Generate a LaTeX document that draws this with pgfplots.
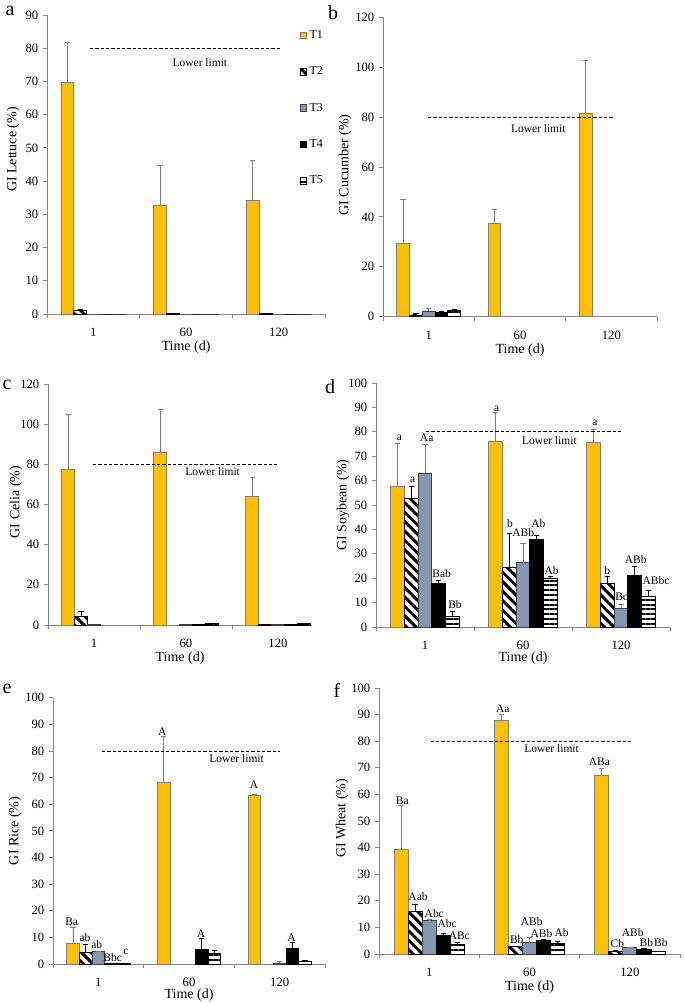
\documentclass[border=0pt]{standalone}
\usepackage{fontspec}
\setmainfont{Liberation Serif}
\usepackage{pgfplots}
\pgfplotsset{compat=1.18}
\usetikzlibrary{patterns.meta}
\definecolor{tgold}{HTML}{FFC000}
\definecolor{tblue}{HTML}{8497B0}
\definecolor{axgray}{HTML}{868686}
\definecolor{bargray}{HTML}{7F7F7F}
\tikzset{lab/.style={font=\fontsize{8.6}{10}\selectfont, inner sep=0pt, anchor=center}}
\pgfplotsset{
  sqlegend/.style={legend image code/.code={\draw[##1,/tikz/.cd] (0pt,-2.5pt) rectangle (5pt,2.5pt);}},
  gibar/.style={ybar, bar width=0.14, bar shift=0pt, line width=0.6pt,
    error bars/y dir=plus, error bars/y explicit,
    error bars/error bar style={line width=0.6pt, color=#1, solid},
    sqlegend},
  t1/.style={gibar=bargray, fill=tgold, draw=bargray},
  t2/.style={gibar=black, draw=black, pattern={Lines[angle=-45,distance=5pt,line width=2.2pt]}},
  t3/.style={gibar=bargray, fill=tblue, draw=darkgray},
  t4/.style={gibar=black, fill=black, draw=black},
  t5/.style={gibar=black, draw=black, pattern={Lines[angle=0,distance=3.6pt,line width=1.6pt]}},
  noerr/.style={error bars/y dir=none},
  lowlim/.style={black, line width=0.6pt, dash pattern=on 2.5pt off 1.5pt, forget plot, mark=none},
  giaxis/.style={scale only axis, axis lines*=left, anchor=south west,
    axis line style={axgray, line width=0.6pt},
    xmin=-0.5, xmax=2.5, ymin=0, clip=false,
    xtick={0,1,2}, xticklabels={1,60,120}, major x tick style={draw=none},
    minor xtick={-0.5,0.5,1.5,2.5}, minor tick length=3pt,
    tick align=outside, major tick length=3pt,
    tick style={axgray, line width=0.6pt},
    xticklabel style={yshift=-4pt},
    tick label style={font=\fontsize{9.5}{11}\selectfont},
    /pgf/number format/assume math mode=true,
    label style={font=\fontsize{10.5}{12}\selectfont},
    xlabel={Time (d)},
    xlabel style={at={(axis description cs:0.5,0)}, anchor=center},
    ylabel style={anchor=center},
  },
}
\begin{document}
\begin{tikzpicture}
\useasboundingbox (0,0) rectangle (513.75pt,-752.25pt);
% panel letters
\node[font=\fontsize{15}{18}\selectfont] at (7.5pt,-8.25pt) {a};
\node[font=\fontsize{15}{18}\selectfont] at (249.75pt,-9.75pt) {b};
\node[font=\fontsize{15}{18}\selectfont] at (5.25pt,-288.75pt) {c};
\node[font=\fontsize{15}{18}\selectfont] at (247.5pt,-290.25pt) {d};
\node[font=\fontsize{15}{18}\selectfont] at (5.25pt,-516.75pt) {e};
\node[font=\fontsize{15}{18}\selectfont] at (252.75pt,-517.5pt) {f};

% ---------------- a
\begin{axis}[giaxis, at={(35.25pt,-235.5pt)}, width=208.5pt, height=224.25pt,
  ymax=90, ytick={0,10,...,90}, ylabel={GI Lettuce (\%)},
  ylabel style={at={(axis description cs:-0.122,0.55)}},
  xlabel style={yshift=-24.75pt},
  legend cell align=left,
  legend style={at={(axis description cs:0.893,0.967)}, anchor=north west, draw=none, fill=none,
    row sep=15.8pt, font=\fontsize{9}{10}\selectfont}]
\addplot[t1] coordinates {(-0.28,69.7) +- (0,12.0) (0.72,32.8) +- (0,12.1) (1.72,34.2) +- (0,12.1)};
\addplot[t2] coordinates {(-0.14,1.2) +- (0,0.3) (0.86,0.3) +- (0,0) (1.86,0.3) +- (0,0)};
\addplot[t3, noerr] coordinates {(0,0) (1,0) (2,0)};
\addplot[t4, noerr] coordinates {(0.14,0) (1.14,0) (2.14,0)};
\addplot[t5, noerr] coordinates {(0.28,0) (1.28,0) (2.28,0)};
\addplot[lowlim] coordinates {(-0.036,80) (2.035,80)};
\legend{T1,T2,T3,T4,T5}
\node[lab] at (axis cs:1.15,75.7) {Lower limit};
\end{axis}

% ---------------- b
\begin{axis}[giaxis, at={(287.25pt,-237.5pt)}, width=205.5pt, height=224.5pt,
  ymax=120, ytick={0,20,...,120}, ylabel={GI Cucumber (\%)},
  ylabel style={at={(axis description cs:-0.139,0.507)}},
  xlabel style={yshift=-24.75pt}]
\addplot[t1] coordinates {(-0.28,29.3) +- (0,17.7) (0.72,37.4) +- (0,5.6) (1.72,81.5) +- (0,21.1)};
\addplot[t2] coordinates {(-0.14,0.7) +- (0,0.6)};
\addplot[t3] coordinates {(0,2.2) +- (0,1.3)};
\addplot[t4] coordinates {(0.14,1.7) +- (0,0.3)};
\addplot[t5] coordinates {(0.28,2.6) +- (0,0.3)};
\addplot[lowlim] coordinates {(-0.007,80) (2.02,80)};
\node[lab] at (axis cs:1.2,75.5) {Lower limit};
\end{axis}

% ---------------- c
\begin{axis}[giaxis, at={(36pt,-468.75pt)}, width=198pt, height=180.75pt, xmax=2.37,
  ymax=120, ytick={0,20,...,120}, ylabel={GI Celia (\%)},
  ylabel style={at={(axis description cs:-0.121,0.51)}},
  xlabel style={yshift=-24.75pt}]
\addplot[t1] coordinates {(-0.28,77.4) +- (0,27.6) (0.72,86.1) +- (0,21.3) (1.72,63.8) +- (0,9.7)};
\addplot[t2] coordinates {(-0.14,4.3) +- (0,2.3)};
\addplot[t2, noerr] coordinates {(1.86,0.2)};
\addplot[t3, noerr] coordinates {(0,0.2) (1,0.2) (2,0.3)};
\addplot[t4, noerr] coordinates {(1.14,0.3) (2.14,0.4)};
\addplot[t5, noerr] coordinates {(1.28,0.6) (2.28,0.6)};
\addplot[lowlim] coordinates {(-0.01,80) (1.99,80)};
\node[lab] at (axis cs:1.29,76.4) {Lower limit};
\end{axis}

% ---------------- d
\begin{axis}[giaxis, at={(282pt,-470.25pt)}, width=220.5pt, height=183pt,
  ymax=100, ytick={0,10,...,100}, ylabel={GI Soybean (\%)},
  ylabel style={at={(axis description cs:-0.112,0.5)}},
  xlabel style={yshift=-23.25pt}]
\addplot[t1] coordinates {(-0.28,57.8) +- (0,17.7) (0.72,76.2) +- (0,12.0) (1.72,75.7) +- (0,5.5)};
\addplot[t2] coordinates {(-0.14,52.6) +- (0,4.9) (0.86,24.5) +- (0,13.9) (1.86,18.0) +- (0,2.6)};
\addplot[t3] coordinates {(0,63.0) +- (0,12.0) (1,26.4) +- (0,7.9) (2,7.6) +- (0,1.7)};
\addplot[t4] coordinates {(0.14,18.0) +- (0,1.0) (1.14,35.9) +- (0,1.7) (2.14,21.0) +- (0,3.7)};
\addplot[t5] coordinates {(0.28,4.5) +- (0,2.1) (1.28,19.9) +- (0,1.0) (2.28,12.4) +- (0,2.8)};
\addplot[lowlim] coordinates {(0.01,80) (2.0,80)};
\node[lab] at (axis cs:1.27,76.4) {Lower limit};
\node[lab] at (axis cs:-0.26,77.7) {a};
\node[lab] at (axis cs:-0.125,60.2) {a};
\node[lab] at (axis cs:0.017,77.7) {Aa};
\node[lab] at (axis cs:0.17,22) {Bab};
\node[lab] at (axis cs:0.306,9.0) {Bb};
\node[lab] at (axis cs:0.732,89.2) {a};
\node[lab] at (axis cs:0.867,42.5) {b};
\node[lab] at (axis cs:1.003,38.7) {ABb};
\node[lab] at (axis cs:1.156,42.2) {Ab};
\node[lab] at (axis cs:1.293,23.1) {Ab};
\node[lab] at (axis cs:1.735,83.5) {a};
\node[lab] at (axis cs:1.86,23.1) {b};
\node[lab] at (axis cs:2.007,12.4) {Bc};
\node[lab] at (axis cs:2.15,27.7) {ABb};
\node[lab] at (axis cs:2.357,18.9) {ABbc};
\end{axis}

% ---------------- e
\begin{axis}[giaxis, at={(39.75pt,-723pt)}, width=204pt, height=199.7pt,
  ymax=100, ytick={0,10,...,100}, ylabel={GI Rice (\%)},
  ylabel style={at={(axis description cs:-0.14,0.5)}},
  xlabel style={yshift=-23.5pt}]
\addplot[t1] coordinates {(-0.28,7.8) +- (0,6.0) (0.72,68.2) +- (0,17.2) (1.72,63.2) +- (0,0.5)};
\addplot[t2] coordinates {(-0.14,4.4) +- (0,3.0)};
\addplot[t3] coordinates {(0,4.6) +- (0,0.3) (2,0.4) +- (0,0.5)};
\addplot[t4] coordinates {(0.14,0.3) +- (0,0) (1.14,5.6) +- (0,4.0) (2.14,5.9) +- (0,2.1)};
\addplot[t5] coordinates {(0.28,0.2) +- (0,0) (1.28,3.8) +- (0,1.2) (2.28,1.1) +- (0,0.4)};
\addplot[lowlim] coordinates {(0.04,80) (2.0,80)};
\node[lab] at (axis cs:1.525,77) {Lower limit};
\node[lab] at (axis cs:-0.294,15.8) {Ba};
\node[lab] at (axis cs:-0.147,9.9) {ab};
\node[lab] at (axis cs:-0.018,7.4) {ab};
\node[lab] at (axis cs:0.158,2.5) {Bbc};
\node[lab] at (axis cs:0.305,4.6) {c};
\node[lab] at (axis cs:0.705,87.2) {A};
\node[lab] at (axis cs:1.132,11.5) {A};
\node[lab] at (axis cs:1.716,67.2) {A};
\node[lab] at (axis cs:2.13,9.9) {A};
\end{axis}

% ---------------- f
\begin{axis}[giaxis, at={(284.25pt,-715.5pt)}, width=225.75pt, height=199.5pt,
  ymax=100, ytick={0,10,...,100}, ylabel={GI Wheat (\%)},
  ylabel style={at={(axis description cs:-0.123,0.51)}},
  xlabel style={yshift=-24.5pt}]
\addplot[t1] coordinates {(-0.28,39.5) +- (0,16.4) (0.72,87.8) +- (0,2.4) (1.72,67.0) +- (0,2.9)};
\addplot[t2] coordinates {(-0.14,16.0) +- (0,2.8) (0.86,2.8) +- (0,0) (1.86,0.9) +- (0,0.6)};
\addplot[t3] coordinates {(0,12.7) +- (0,0.2) (1,4.4) +- (0,1.9) (2,2.3) +- (0,0.2)};
\addplot[t4] coordinates {(0.14,7.0) +- (0,0.9) (1.14,5.3) +- (0,0.2) (2.14,1.6) +- (0,0.4)};
\addplot[t5] coordinates {(0.28,3.5) +- (0,0.9) (1.28,4.0) +- (0,0.9) (2.28,0.9) +- (0,0)};
\addplot[lowlim] coordinates {(0.015,80) (2.03,80)};
\node[lab] at (axis cs:1.22,77.2) {Lower limit};
\node[lab] at (axis cs:-0.268,57.6) {Ba};
\node[lab] at (axis cs:-0.111,21.5) {Aab};
\node[lab] at (axis cs:0.051,15.3) {Abc};
\node[lab] at (axis cs:0.18,11.4) {Abc};
\node[lab] at (axis cs:0.30,7.0) {ABc};
\node[lab] at (axis cs:0.733,92.2) {Aa};
\node[lab] at (axis cs:0.873,5.6) {Bb};
\node[lab] at (axis cs:1.022,12.2) {ABb};
\node[lab] at (axis cs:1.12,7.8) {ABb};
\node[lab] at (axis cs:1.32,8.1) {Ab};
\node[lab] at (axis cs:1.696,72.4) {ABa};
\node[lab] at (axis cs:1.876,3.8) {Cb};
\node[lab] at (axis cs:2.029,8.1) {ABb};
\node[lab] at (axis cs:2.165,4.3) {Bb};
\node[lab] at (axis cs:2.31,4.3) {Bb};
\end{axis}
\end{tikzpicture}
\end{document}
